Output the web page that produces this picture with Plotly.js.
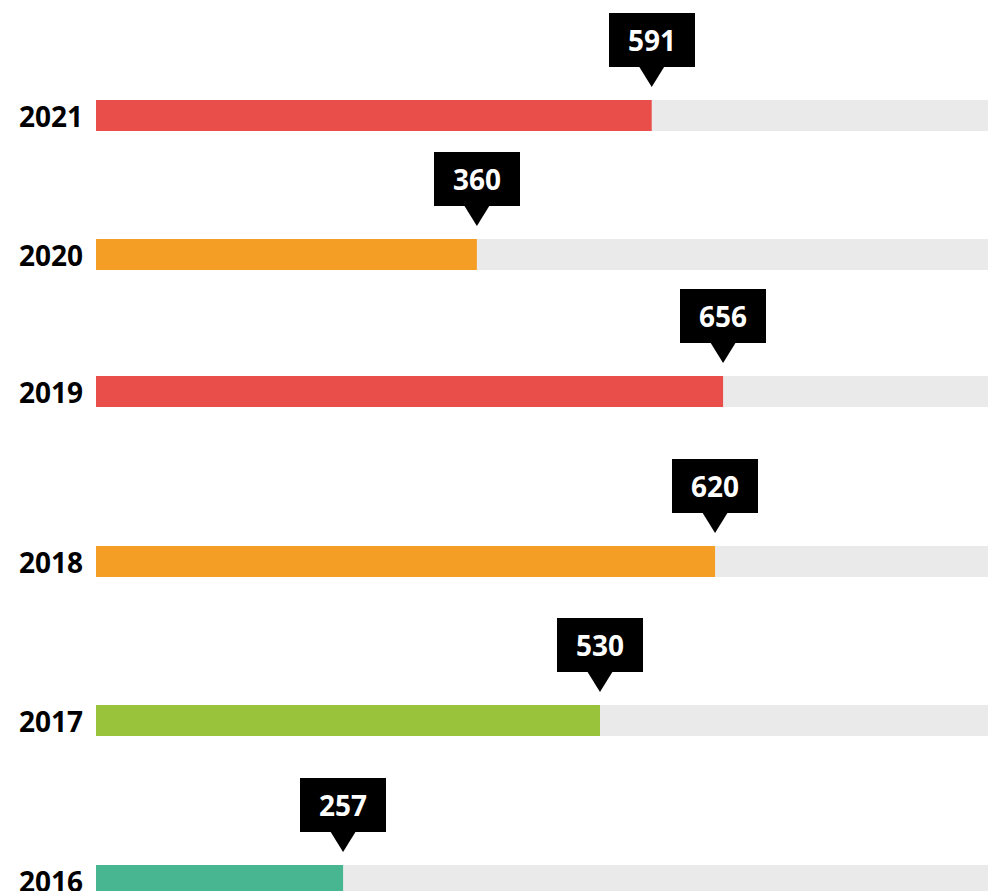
<!DOCTYPE html>
<html><head><meta charset="utf-8">
<script src="https://cdn.plot.ly/plotly-3.0.1.min.js"></script>
<style>html,body{margin:0;padding:0;background:#fff;overflow:hidden}</style>
</head><body><div id="chart" style="width:988px;height:891px"></div>
<script>
// ---- data ----
const years = ['2021', '2020', '2019', '2018', '2017', '2016'];
const values = [591, 360, 656, 620, 530, 257];
const progress = [62.3, 42.7, 70.3, 69.4, 56.5, 27.7]; // share of the grey track, %
const trackMax = 100;
const barColors = ['#E94E4A', '#F59E26', '#E94E4A', '#F59E26', '#98C33B', '#49B692'];

// ---- layout settings ----
const W = 988, H = 891;
const rowTop = [100, 239, 376, 546, 705, 865]; // px from top of each row's track
const rowH = 31;
const plotLeft = 96;
const fontFam = '"Open Sans", "DejaVu Sans", sans-serif';

const traces = [];
const layout = {
  width: W, height: H,
  margin: {l: 0, r: 0, t: 0, b: 0},
  paper_bgcolor: '#fff', plot_bgcolor: '#fff',
  showlegend: false, barmode: 'overlay', hovermode: false,
  xaxis: {domain: [plotLeft / W, 1], range: [0, trackMax], visible: false, fixedrange: true},
  annotations: [], shapes: []
};

years.forEach((yr, i) => {
  const yId = i === 0 ? 'y' : 'y' + (i + 1);
  const yKey = i === 0 ? 'yaxis' : 'yaxis' + (i + 1);
  const vis = Math.min(rowH, H - rowTop[i]);
  layout[yKey] = {
    type: 'category', anchor: 'x',
    domain: [1 - (rowTop[i] + vis) / H, 1 - rowTop[i] / H],
    range: [0.5 - vis / rowH, 0.5],
    showgrid: false, zeroline: false, showline: false,
    ticks: '', ticklabelstandoff: 12, ticklabelshift: 2, fixedrange: true,
    tickfont: {family: fontFam, size: 28, color: '#000', weight: 'bold'}
  };
  traces.push({type: 'bar', orientation: 'h', x: [trackMax], y: [yr], width: 1,
    marker: {color: '#EAEAEA', line: {width: 0}}, xaxis: 'x', yaxis: yId, hoverinfo: 'skip'});
  traces.push({type: 'bar', orientation: 'h', x: [progress[i]], y: [yr], width: 1,
    marker: {color: barColors[i], line: {width: 0}}, xaxis: 'x', yaxis: yId, hoverinfo: 'skip'});
  layout.annotations.push({
    x: progress[i], xref: 'x', y: 1, yref: yId + ' domain',
    xanchor: 'center', yanchor: 'bottom', yshift: 33,
    text: String(values[i]), showarrow: false,
    font: {family: fontFam, size: 28, color: '#fff', weight: 'bold'},
    bgcolor: '#000', width: 86, height: 54, borderpad: 0, borderwidth: 0, valign: 'middle'
  });
  layout.shapes.push({
    type: 'path', xref: 'x', yref: yId + ' domain',
    xsizemode: 'pixel', xanchor: progress[i], ysizemode: 'pixel', yanchor: 1,
    path: 'M-13,34 L13,34 L0,13 Z', fillcolor: '#000', line: {width: 0}, layer: 'above'
  });
});

Plotly.newPlot('chart', traces, layout, {displayModeBar: false, staticPlot: true});
</script></body></html>
